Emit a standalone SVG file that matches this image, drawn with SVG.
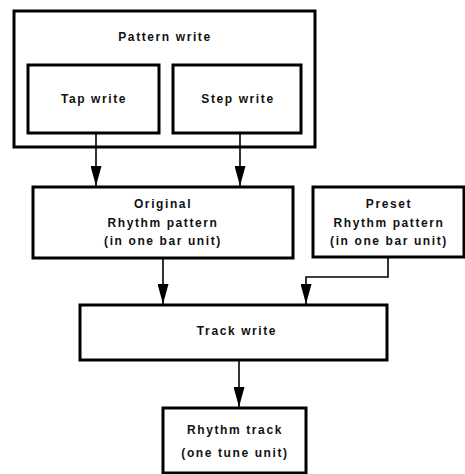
<svg xmlns="http://www.w3.org/2000/svg" width="465" height="474" viewBox="0 0 465 474">
<style>
.box{fill:none;stroke:#000;stroke-width:3}
.t{font-family:"Liberation Sans",Arial,sans-serif;font-size:12px;font-weight:bold;letter-spacing:1.6px;text-anchor:middle;fill:#111}
.c{fill:none;stroke:#000;stroke-width:1.6}
</style>
<defs>
<marker id="ah" viewBox="0 0 20 11" refX="20" refY="5.5" markerWidth="20" markerHeight="11" markerUnits="userSpaceOnUse" orient="auto">
<path d="M0,0 L20,5.5 L0,11 Z" fill="#000"/>
</marker>
</defs>
<rect width="465" height="474" fill="#fff"/>
<g id="connectors">
<path class="c" d="M96,133 V186" marker-end="url(#ah)"/>
<path class="c" d="M240,133 V186" marker-end="url(#ah)"/>
<path class="c" d="M163,258 V304" marker-end="url(#ah)"/>
<path class="c" d="M388,258 V277 H306 V304" marker-end="url(#ah)"/>
<path class="c" d="M239,360 V407" marker-end="url(#ah)"/>
</g>
<g id="pattern-write">
<rect class="box" x="14" y="11" width="301" height="136"/>
<text class="t" x="165" y="41">Pattern write</text>
</g>
<g id="tap-write">
<rect class="box" x="28" y="65" width="131" height="68"/>
<text class="t" x="94" y="103">Tap write</text>
</g>
<g id="step-write">
<rect class="box" x="173" y="65" width="128" height="68"/>
<text class="t" x="238" y="103">Step write</text>
</g>
<g id="original">
<rect class="box" x="33" y="187" width="260" height="71"/>
<text class="t" x="163" y="208">Original</text>
<text class="t" x="163" y="227">Rhythm pattern</text>
<text class="t" x="163" y="245">(in one bar unit)</text>
</g>
<g id="preset">
<rect class="box" x="313" y="187" width="151" height="70"/>
<text class="t" x="389" y="208">Preset</text>
<text class="t" x="389" y="227">Rhythm pattern</text>
<text class="t" x="389" y="245">(in one bar unit)</text>
</g>
<g id="track-write">
<rect class="box" x="80" y="305" width="307" height="55"/>
<text class="t" x="237" y="335">Track write</text>
</g>
<g id="rhythm-track">
<rect class="box" x="163" y="408" width="143" height="65"/>
<text class="t" x="235" y="434">Rhythm track</text>
<text class="t" x="235" y="457">(one tune unit)</text>
</g>
</svg>
